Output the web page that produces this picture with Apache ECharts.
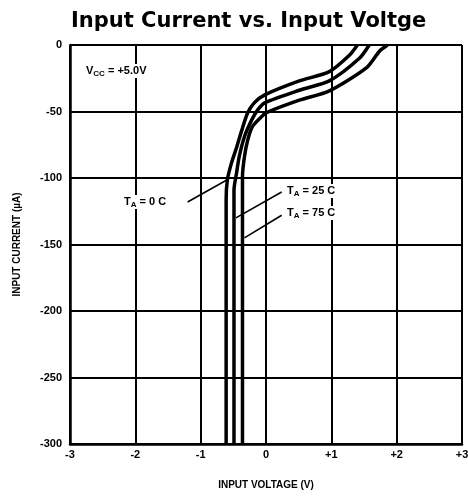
<!DOCTYPE html>
<html>
<head>
<meta charset="utf-8">
<script src="https://cdn.jsdelivr.net/npm/echarts@6/dist/echarts.min.js"></script>
<style>
  html, body { margin: 0; padding: 0; background: #fff; }
  #chart { width: 468px; height: 501px; }
</style>
</head>
<body>
<div id="chart"></div>
<script>
// curves: [input voltage (V), input current (uA)]
var curve0C = [
  [-0.61, -300], [-0.61, -116], [-0.59, -101], [-0.53, -89], [-0.45, -77],
  [-0.37, -64], [-0.28, -51], [-0.18, -43.5], [-0.02, -37.5], [0.51, -27],
  [0.97, -20], [1.28, -7.5], [1.40, 0]
]
var curve25C = [
  [-0.49, -300], [-0.49, -109], [-0.45, -96], [-0.41, -84], [-0.33, -69],
  [-0.22, -56.5], [-0.13, -49], [-0.02, -43.5], [0.51, -34], [0.97, -27],
  [1.43, -10], [1.58, 0]
]
var curve75C = [
  [-0.36, -300], [-0.36, -109], [-0.36, -99], [-0.33, -84], [-0.28, -71.5],
  [-0.21, -61.5], [-0.07, -54], [0.0, -51], [0.51, -41.5], [0.97, -34.5],
  [1.54, -17], [1.74, -4.5], [1.86, 0]
]
var xTicks = [-3, -2, -1, 0, 1, 2, 3]
var yTicks = [0, -50, -100, -150, -200, -250, -300]

var chart = echarts.init(document.getElementById('chart'))

var black = '#000'
var lblFont = 'Liberation Sans'

function curve(name, data, pointer) {
  return {
    name: name,
    type: 'line',
    data: data,
    smooth: 0.25,
    showSymbol: false,
    animation: false,
    lineStyle: { color: black, width: 3.5 },
    markLine: {
      silent: true,
      symbol: 'none',
      animation: false,
      label: { show: false },
      lineStyle: { color: black, width: 1.6, type: 'solid' },
      data: [[{ coord: pointer[0] }, { coord: pointer[1] }]]
    }
  }
}

// subscript text, e.g. T with A below
function note(left, top, text) {
  return {
    type: 'text', left: left, top: top, z: 20,
    style: {
      text: text,
      font: 'bold 11px "Liberation Sans"',
      fill: black,
      backgroundColor: '#fff',
      rich: { s: { fontSize: 8, fontWeight: 'bold', fontFamily: lblFont, verticalAlign: 'bottom', padding: [6, 0, 0, 0] } }
    }
  }
}

chart.setOption({
  backgroundColor: '#fff',
  title: {
    text: 'Input Current vs. Input Voltge',
    left: 66,
    top: 6,
    textStyle: { fontFamily: 'DejaVu Sans', fontWeight: 'bold', fontSize: 21, color: black }
  },
  grid: { left: 70, right: 6, top: 45, bottom: 57, outerBoundsMode: 'none', containLabel: false },
  xAxis: {
    type: 'value',
    min: -3,
    max: 3,
    interval: 1,
    name: 'INPUT VOLTAGE (V)',
    nameLocation: 'middle',
    nameGap: 36,
    nameTextStyle: { fontFamily: lblFont, fontWeight: 'bold', fontSize: 10, color: black },
    axisLine: { show: true, onZero: false, lineStyle: { color: black, width: 2.5 } },
    axisTick: { show: false },
    splitLine: { show: true, lineStyle: { color: black, width: 2 } },
    axisLabel: {
      margin: 5,
      hideOverlap: false,
      fontFamily: lblFont, fontWeight: 'bold', fontSize: 11, color: black,
      formatter: function (v) { return xTicks.indexOf(v) >= 0 && v > 0 ? '+' + v : String(v) }
    }
  },
  yAxis: {
    type: 'value',
    min: -300,
    max: 0,
    interval: 50,
    name: 'INPUT CURRENT (\u00b5A)',
    nameLocation: 'middle',
    nameGap: 48,
    nameTextStyle: { fontFamily: lblFont, fontWeight: 'bold', fontSize: 10, color: black },
    axisLine: { show: true, onZero: false, lineStyle: { color: black, width: 2.5 } },
    axisTick: { show: false },
    splitLine: { show: true, lineStyle: { color: black, width: 2 } },
    axisLabel: {
      margin: 8,
      fontFamily: lblFont, fontWeight: 'bold', fontSize: 11, color: black,
      formatter: function (v) { return yTicks.indexOf(v) >= 0 ? String(v) : '' }
    }
  },
  graphic: [
    note(86, 64, 'V{s|CC} = +5.0V'),
    note(124, 195, 'T{s|A} = 0 C'),
    note(287, 184, 'T{s|A} = 25 C'),
    note(287, 206, 'T{s|A} = 75 C')
  ],
  series: [
    curve('TA = 0 C', curve0C, [[-1.20, -118], [-0.60, -101.5]]),
    curve('TA = 25 C', curve25C, [[0.24, -110.5], [-0.46, -130]]),
    curve('TA = 75 C', curve75C, [[0.24, -128], [-0.33, -145]])
  ]
})
</script>
</body>
</html>
